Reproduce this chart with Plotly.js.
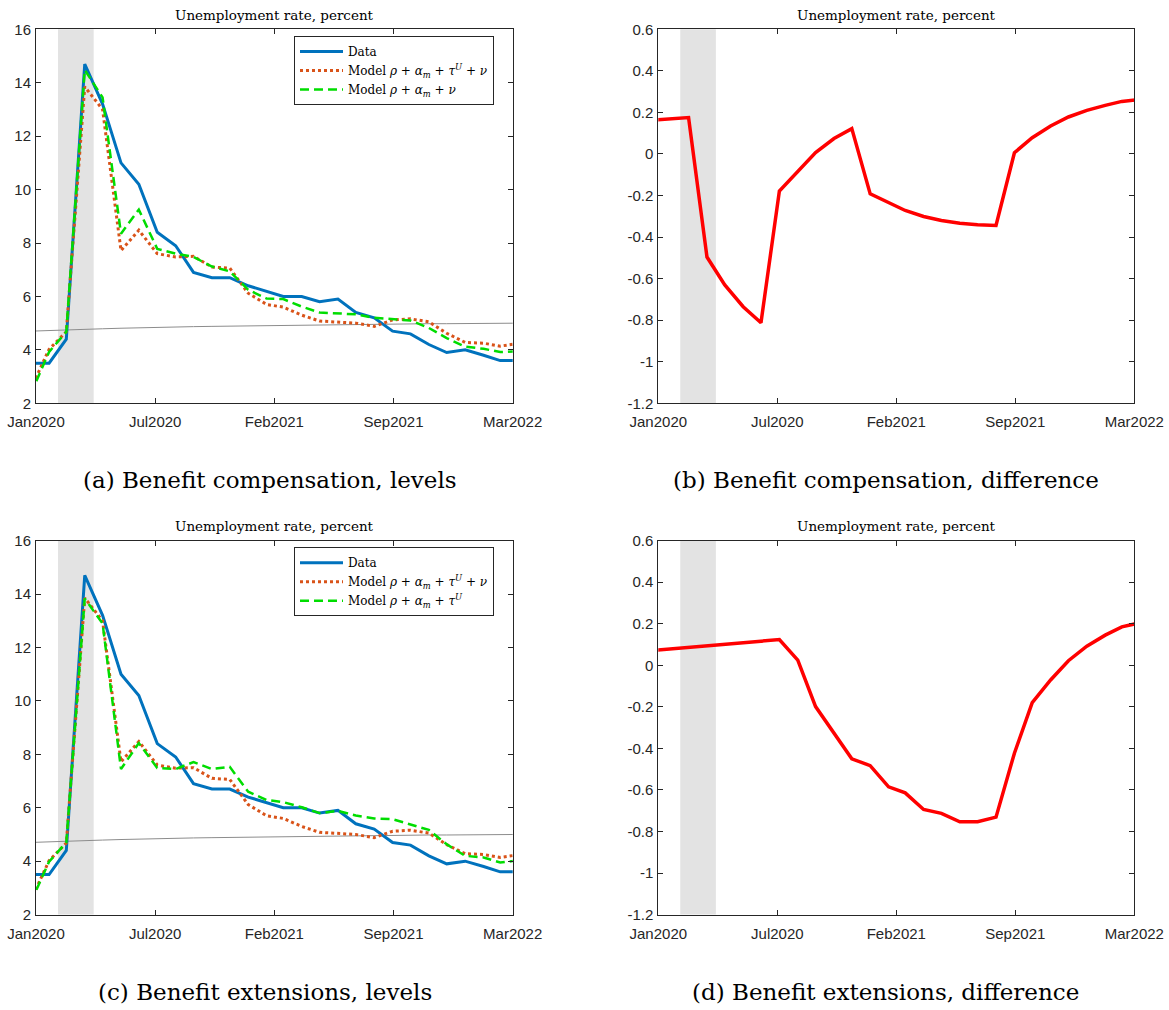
<!DOCTYPE html>
<html>
<head>
<meta charset="utf-8">
<script src="https://cdn.plot.ly/plotly-3.0.1.min.js"></script>
<style>html,body{margin:0;padding:0;background:#fff;}#chart{width:1169px;height:1010px;}</style>
</head>
<body>
<div id="chart"></div>
<script>
// ---- data (monthly, first day of month) ----
const months = ['2020-01-01','2020-02-01','2020-03-01','2020-04-01','2020-05-01','2020-06-01','2020-07-01','2020-08-01','2020-09-01','2020-10-01','2020-11-01','2020-12-01',
  '2021-01-01','2021-02-01','2021-03-01','2021-04-01','2021-05-01','2021-06-01','2021-07-01','2021-08-01','2021-09-01','2021-10-01','2021-11-01','2021-12-01',
  '2022-01-01','2022-02-01','2022-03-01','2022-04-01'];
const dataRate = [3.5,3.5,4.4,14.7,13.2,11.0,10.2,8.4,7.9,6.9,6.7,6.7,6.4,6.2,6.0,6.0,5.8,5.9,5.4,5.2,4.7,4.6,4.2,3.9,4.0,3.8,3.6,3.6];
const modelFull = [2.53,4.02,4.68,13.85,13.0,7.72,8.48,7.6,7.48,7.5,7.1,7.06,6.12,5.7,5.6,5.3,5.08,5.05,5.0,4.88,5.12,5.16,5.05,4.62,4.28,4.25,4.14,4.24];
const modelNoTau = [2.35,3.92,4.68,14.48,13.45,8.35,9.25,7.78,7.6,7.48,7.12,6.94,6.25,5.92,5.9,5.62,5.4,5.37,5.33,5.2,5.15,5.1,4.82,4.44,4.12,4.04,3.92,3.95];
const modelNoNu = [2.45,3.98,4.7,13.83,12.9,7.45,8.42,7.49,7.45,7.71,7.45,7.53,6.6,6.29,6.21,6.02,5.8,5.88,5.71,5.6,5.57,5.38,5.17,4.63,4.2,4.14,3.95,4.03];
const trendRate = [4.70,4.73,4.75,4.77,4.79,4.81,4.83,4.84,4.86,4.87,4.88,4.89,4.90,4.91,4.92,4.93,4.94,4.95,4.95,4.96,4.97,4.97,4.98,4.98,4.99,4.99,5.00,5.00];
const diffCompensation = [0.163,0.168,0.175,-0.496,-0.63,-0.735,-0.812,-0.178,-0.082,0.007,0.074,0.122,-0.192,-0.234,-0.272,-0.301,-0.32,-0.333,-0.341,-0.344,0.006,0.078,0.135,0.178,0.21,0.234,0.253,0.262];
const diffExtensions = [0.071,0.078,0.086,0.093,0.101,0.108,0.116,0.124,0.025,-0.199,-0.327,-0.45,-0.483,-0.585,-0.614,-0.694,-0.713,-0.753,-0.753,-0.731,-0.423,-0.18,-0.071,0.022,0.092,0.145,0.185,0.205];

// ---- axes / labels ----
const xRange = ['2020-01-10','2022-03-22'];
const tickDates = ['2020-01-10','2020-07-28 12:00','2021-02-14','2021-09-02 12:00','2022-03-22'];
const tickLabels = ['Jan2020','Jul2020','Feb2021','Sep2021','Mar2022'];
const recession = ['2020-02-16','2020-04-16'];
const levelTicks = [2,4,6,8,10,12,14,16];
const levelTickLabels = ['2','4','6','8','10','12','14','16'];
const diffTicks = [-1.2,-1.0,-0.8,-0.6,-0.4,-0.2,0,0.2,0.4,0.6];
const diffTickLabels = ['-1.2','-1','-0.8','-0.6','-0.4','-0.2','0','0.2','0.4','0.6'];
const panelTitle = 'Unemployment rate, percent';
const captions = ['(a) Benefit compensation, levels','(b) Benefit compensation, difference','(c) Benefit extensions, levels','(d) Benefit extensions, difference'];
const legendNames = ['Data','Model <i>ρ</i> + <i>α</i><sub><i>m</i></sub> + <i>τ</i><sup><i>U</i></sup> + <i>ν</i>','Model <i>ρ</i> + <i>α</i><sub><i>m</i></sub> + <i>ν</i>','Model <i>ρ</i> + <i>α</i><sub><i>m</i></sub> + <i>τ</i><sup><i>U</i></sup>'];

// ---- geometry (pixels) ----
const W = 1169, H = 1010;
const colL = [36, 512.7], colR = [658.3, 1134.3];
const rowT = [29.3, 403.3], rowB = [540.6, 914.6];
const dx = p => [p[0]/W, p[1]/W];
const dy = p => [1 - p[1]/H, 1 - p[0]/H];

const BLUE = '#0072BD', ORANGE = '#D95319', GREEN = '#00DD00', RED = '#FF0000', AX = '#262626';

const traces = [];
function levelPanel(xa, ya, leg, green, greenName) {
  traces.push({x: months, y: trendRate, xaxis: xa, yaxis: ya, mode: 'lines', line: {color: '#8c8c8c', width: 1}, showlegend: false});
  traces.push({x: months, y: dataRate, xaxis: xa, yaxis: ya, mode: 'lines', name: legendNames[0], line: {color: BLUE, width: 3}, legend: leg});
  traces.push({x: months, y: modelFull, xaxis: xa, yaxis: ya, mode: 'lines', name: legendNames[1], line: {color: ORANGE, width: 3, dash: 'dot'}, legend: leg});
  traces.push({x: months, y: green, xaxis: xa, yaxis: ya, mode: 'lines', name: greenName, line: {color: GREEN, width: 2.5, dash: '9px,5px'}, legend: leg});
}
levelPanel('x', 'y', 'legend', modelNoTau, legendNames[2]);
levelPanel('x3', 'y3', 'legend2', modelNoNu, legendNames[3]);
traces.push({x: months, y: diffCompensation, xaxis: 'x2', yaxis: 'y2', mode: 'lines', line: {color: RED, width: 3.5}, showlegend: false});
traces.push({x: months, y: diffExtensions, xaxis: 'x4', yaxis: 'y4', mode: 'lines', line: {color: RED, width: 3.5}, showlegend: false});

const tickFont = {family: 'Liberation Sans, Arial, sans-serif', size: 15, color: AX};
function xax(dom, anchor) {
  return {domain: dx(dom), anchor: anchor, type: 'date', range: xRange, tickmode: 'array', tickvals: tickDates, ticktext: tickLabels,
    ticks: 'inside', ticklen: 5, tickcolor: AX, mirror: 'allticks', showline: true, linecolor: AX, linewidth: 1,
    showgrid: false, zeroline: false, tickfont: tickFont, ticklabelstandoff: 5, fixedrange: true};
}
function yax(dom, anchor, lv) {
  return {domain: dy(dom), anchor: anchor, range: lv ? [2,16] : [-1.2,0.6], tickmode: 'array',
    tickvals: lv ? levelTicks : diffTicks, ticktext: lv ? levelTickLabels : diffTickLabels,
    ticks: 'inside', ticklen: 5, tickcolor: AX, mirror: 'allticks', showline: true, linecolor: AX, linewidth: 1,
    showgrid: false, zeroline: false, tickfont: tickFont, ticklabelstandoff: 1, fixedrange: true};
}
const legendBase = {xanchor: 'left', yanchor: 'top', bgcolor: '#fff', bordercolor: AX, borderwidth: 1,
  font: {family: 'DejaVu Serif, serif', size: 12, color: '#000'}, tracegroupgap: 0, itemwidth: 43};

const shapes = [['x','y'],['x2','y2'],['x3','y3'],['x4','y4']].map(([xa, ya]) => ({
  type: 'rect', xref: xa, yref: ya + ' domain', x0: recession[0], x1: recession[1], y0: 0, y1: 1,
  fillcolor: '#e3e3e3', line: {width: 0}, layer: 'below'}));

const titleFont = {family: 'DejaVu Serif, serif', size: 13.5, color: '#000'};
const capFont = {family: 'DejaVu Serif, serif', size: 23, color: '#000'};
const annotations = [
  {text: panelTitle, x: (colL[0]+colL[1])/2/W, y: 1-15/H},
  {text: panelTitle, x: (colR[0]+colR[1])/2/W, y: 1-15/H},
  {text: panelTitle, x: (colL[0]+colL[1])/2/W, y: 1-526.3/H},
  {text: panelTitle, x: (colR[0]+colR[1])/2/W, y: 1-526.3/H}
].map(a => Object.assign(a, {xref:'paper', yref:'paper', xanchor:'center', yanchor:'middle', showarrow:false, font: titleFont}));
[[270,479.5],[886,479.5],[265,992],[885.5,992]].forEach((p, i) => annotations.push({
  text: captions[i], x: p[0]/W, y: 1-p[1]/H, xref:'paper', yref:'paper', xanchor:'center', yanchor:'middle', showarrow:false, font: capFont}));

const layout = {
  width: W, height: H, margin: {l:0, r:0, t:0, b:0}, paper_bgcolor: '#fff', plot_bgcolor: '#fff',
  xaxis: xax(colL,'y'), yaxis: yax(rowT,'x',true),
  xaxis2: xax(colR,'y2'), yaxis2: yax(rowT,'x2',false),
  xaxis3: xax(colL,'y3'), yaxis3: yax(rowB,'x3',true),
  xaxis4: xax(colR,'y4'), yaxis4: yax(rowB,'x4',false),
  legend: Object.assign({x: 294/W, y: 1-36/H}, legendBase),
  legend2: Object.assign({x: 294/W, y: 1-(36+511.3)/H}, legendBase),
  shapes: shapes, annotations: annotations, hovermode: false
};
Plotly.newPlot('chart', traces, layout, {staticPlot: true, displayModeBar: false});
</script>
</body>
</html>
